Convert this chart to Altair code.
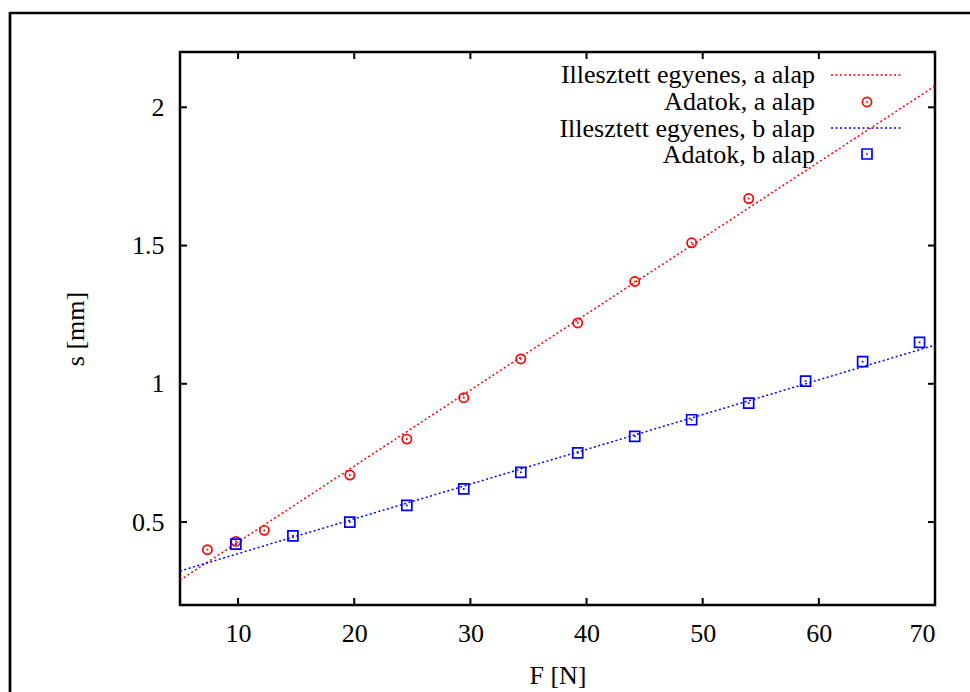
import altair as alt
import pandas as pd

# ---- data ----
F_a = [7.36, 9.81, 12.26, 19.62, 24.53, 29.43, 34.34, 39.24, 44.15, 49.05, 53.96]
s_a = [0.40, 0.43, 0.47, 0.67, 0.80, 0.95, 1.09, 1.22, 1.37, 1.51, 1.67]
F_b = [9.81, 14.72, 19.62, 24.53, 29.43, 34.34, 39.24, 44.15, 49.05, 53.96, 58.86, 63.77, 68.67]
s_b = [0.42, 0.45, 0.50, 0.56, 0.62, 0.68, 0.75, 0.81, 0.87, 0.93, 1.01, 1.08, 1.15]
fit_F = [5, 70]
fit_a = [0.290, 2.077]
fit_b = [0.323, 1.140]
x_ticks = [10, 20, 30, 40, 50, 60, 70]
y_ticks = [0.5, 1, 1.5, 2]
legend_labels = ["Illesztett egyenes, a alap", "Adatok, a alap",
                 "Illesztett egyenes, b alap", "Adatok, b alap"]

RED = "#ff0000"
BLUE = "#0000ff"
FONT = "Liberation Serif"
FS = 26
W, H = 755, 553

df_a = pd.DataFrame({"F": F_a, "s": s_a})
df_b = pd.DataFrame({"F": F_b, "s": s_b})
df_fa = pd.DataFrame({"F": fit_F, "s": fit_a})
df_fb = pd.DataFrame({"F": fit_F, "s": fit_b})
df_xt = pd.DataFrame({"F": x_ticks})
df_yt = pd.DataFrame({"s": y_ticks})

xscale = alt.Scale(domain=[5, 70], nice=False, zero=False)
yscale = alt.Scale(domain=[0.2, 2.2], nice=False, zero=False)

xaxis = alt.Axis(values=x_ticks, format="d", title="F [N]", grid=False, ticks=False,
                 domain=False, labelFont=FONT, labelFontSize=FS, labelColor="black",
                 labelPadding=15, titleFont=FONT, titleFontSize=FS, titleFontWeight="normal",
                 titleColor="black", titleY=78, titleBaseline="alphabetic")
yaxis = alt.Axis(values=y_ticks, format="~g", title="s [mm]", grid=False, ticks=False,
                 domain=False, labelFont=FONT, labelFontSize=FS, labelColor="black",
                 labelPadding=16, titleFont=FONT, titleFontSize=FS, titleFontWeight="normal",
                 titleColor="black", titleX=-97, titleY=H / 2, titleAngle=-90,
                 titleBaseline="alphabetic", titleAlign="center")

X = alt.X("F:Q", scale=xscale, axis=xaxis)
Y = alt.Y("s:Q", scale=yscale, axis=yaxis)

dash = [2, 2.5]
CIRC = 85
SQ = 100
SW = 1.7

line_a = alt.Chart(df_fa).mark_line(color=RED, strokeWidth=1.5, strokeDash=dash).encode(x=X, y=Y)
line_b = alt.Chart(df_fb).mark_line(color=BLUE, strokeWidth=1.5, strokeDash=dash).encode(x=X, y=Y)

pts_a = alt.Chart(df_a).mark_point(shape="circle", color=RED, size=CIRC, strokeWidth=SW,
                                   filled=False, opacity=1).encode(x=X, y=Y)
dot_a = alt.Chart(df_a).mark_point(shape="square", color=RED, size=3, filled=True,
                                   opacity=1).encode(x=X, y=Y)
pts_b = alt.Chart(df_b).mark_point(shape="square", color=BLUE, size=SQ, strokeWidth=SW,
                                   filled=False, opacity=1).encode(x=X, y=Y)
dot_b = alt.Chart(df_b).mark_point(shape="square", color=BLUE, size=3, filled=True,
                                   opacity=1).encode(x=X, y=Y)

# inward ticks on all four sides
tick_kw = dict(color="black", strokeWidth=2)
xt_bot = alt.Chart(df_xt).mark_rule(**tick_kw).encode(x=X, y=alt.value(H), y2=alt.value(H - 7))
xt_top = alt.Chart(df_xt).mark_rule(**tick_kw).encode(x=X, y=alt.value(0), y2=alt.value(7))
yt_left = alt.Chart(df_yt).mark_rule(**tick_kw).encode(y=Y, x=alt.value(0), x2=alt.value(7))
yt_right = alt.Chart(df_yt).mark_rule(**tick_kw).encode(y=Y, x=alt.value(W), x2=alt.value(W - 7))

# legend (top right, labels left of symbols)
row_mid = [23, 50, 76, 102]
row_base = [31, 58, 85, 111]
leg_layers = []
for i, lab in enumerate(legend_labels):
    leg_layers.append(
        alt.Chart(pd.DataFrame({"t": [lab]})).mark_text(
            font=FONT, fontSize=FS, align="right", baseline="alphabetic", color="black"
        ).encode(text="t:N", x=alt.value(635), y=alt.value(row_base[i]))
    )
leg_layers.append(alt.Chart(pd.DataFrame({"k": [0]})).mark_rule(
    color=RED, strokeWidth=1.5, strokeDash=dash).encode(
    x=alt.value(651), x2=alt.value(723), y=alt.value(row_mid[0])))
leg_layers.append(alt.Chart(pd.DataFrame({"k": [0]})).mark_rule(
    color=BLUE, strokeWidth=1.5, strokeDash=dash).encode(
    x=alt.value(651), x2=alt.value(723), y=alt.value(row_mid[2])))
leg_layers.append(alt.Chart(pd.DataFrame({"k": [0]})).mark_point(
    shape="circle", color=RED, size=CIRC, strokeWidth=SW, filled=False, opacity=1).encode(
    x=alt.value(687), y=alt.value(row_mid[1])))
leg_layers.append(alt.Chart(pd.DataFrame({"k": [0]})).mark_point(
    shape="square", color=RED, size=3, filled=True, opacity=1).encode(
    x=alt.value(687), y=alt.value(row_mid[1])))
leg_layers.append(alt.Chart(pd.DataFrame({"k": [0]})).mark_point(
    shape="square", color=BLUE, size=SQ, strokeWidth=SW, filled=False, opacity=1).encode(
    x=alt.value(687), y=alt.value(row_mid[3])))
leg_layers.append(alt.Chart(pd.DataFrame({"k": [0]})).mark_point(
    shape="square", color=BLUE, size=3, filled=True, opacity=1).encode(
    x=alt.value(687), y=alt.value(row_mid[3])))

# outer page frame (top and left edges visible)
frame_top = alt.Chart(pd.DataFrame({"k": [0]})).mark_rule(color="black", strokeWidth=2.7).encode(
    x=alt.value(-170), x2=alt.value(820), y=alt.value(-39))
frame_left = alt.Chart(pd.DataFrame({"k": [0]})).mark_rule(color="black", strokeWidth=2.7).encode(
    x=alt.value(-170), y=alt.value(-40), y2=alt.value(720))

chart = alt.layer(
    line_a, line_b, pts_a, dot_a, pts_b, dot_b,
    xt_bot, xt_top, yt_left, yt_right,
    *leg_layers, frame_top, frame_left
).properties(
    width=W, height=H,
    autosize=alt.AutoSizeParams(type="none"),
    padding={"left": 180, "top": 52, "right": 35, "bottom": 87},
    background="white",
).configure_view(stroke="black", strokeWidth=2.5)

chart.save("out.html", embed_options={"renderer": "svg", "actions": False})
